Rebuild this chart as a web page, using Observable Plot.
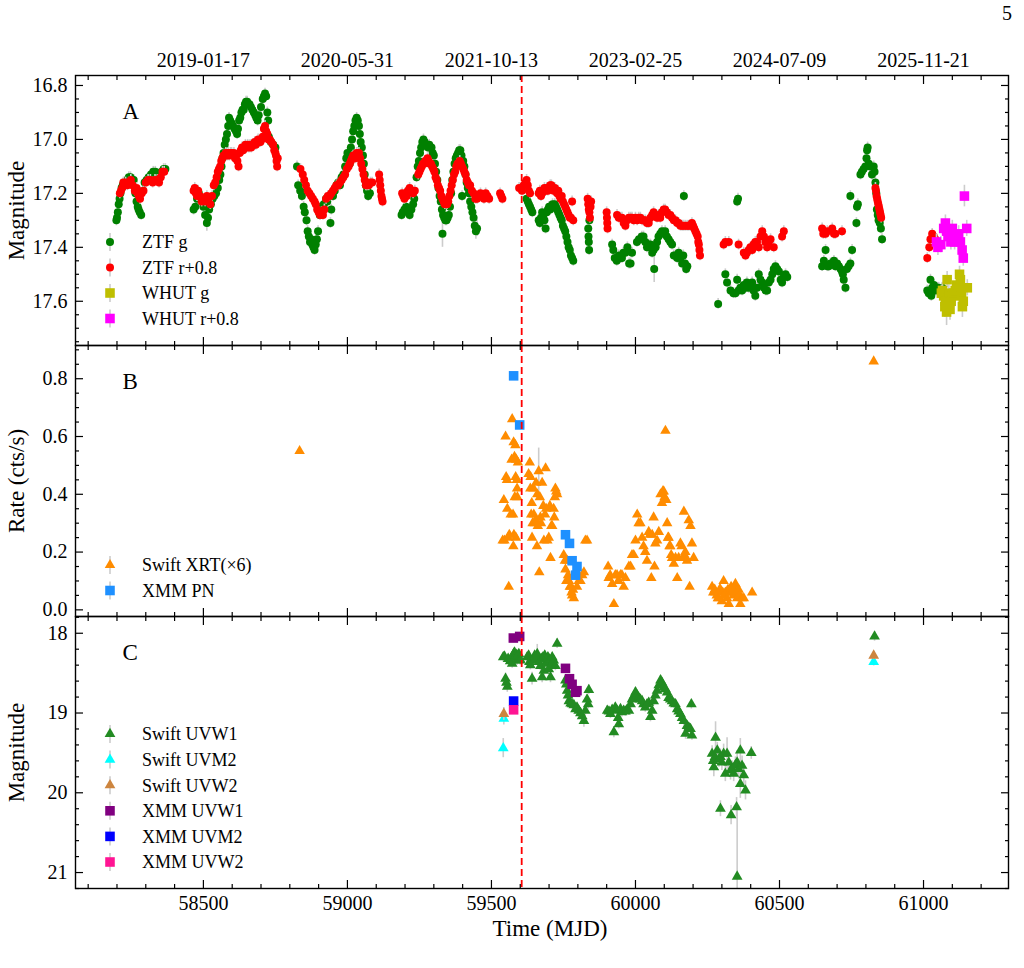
<!DOCTYPE html>
<html><head><meta charset="utf-8">
<script src="https://cdn.jsdelivr.net/npm/d3@7"></script>
<script src="https://cdn.jsdelivr.net/npm/@observablehq/plot@0.6"></script>
<style>
body{margin:0;background:#fff;}
#page{position:relative;width:1024px;height:968px;font-family:"Liberation Serif","Times New Roman",serif;background:#fff;overflow:hidden;}
#page > svg{position:absolute;left:0;}
#page svg text{font-family:"Liberation Serif","Times New Roman",serif;}
#pageno{position:absolute;left:1002px;top:2px;font-size:20px;}
</style></head><body><div id="page"><div id="pageno">5</div></div>
<script>
// ---------- axes / ticks ----------
const X_DOMAIN = [58056, 61295];
const X_MAJOR = [58500, 59000, 59500, 60000, 60500, 61000];
const X_MINOR = [58100,58200,58300,58400,58600,58700,58800,58900,59100,59200,59300,59400,59600,59700,59800,59900,60100,60200,60300,60400,60600,60700,60800,60900,61100,61200];
const DATE_LABELS = ["2019-01-17","2020-05-31","2021-10-13","2023-02-25","2024-07-09","2025-11-21"];
const EVENT_MJD = 59605;

const A_MAJOR = [16.8, 17.0, 17.2, 17.4, 17.6];
const A_MINOR = [16.85,16.9,16.95,17.05,17.1,17.15,17.25,17.3,17.35,17.45,17.5,17.55,17.65,17.7,17.75];
const B_MAJOR = [0.0, 0.2, 0.4, 0.6, 0.8];
const B_MINOR = [0.05,0.1,0.15,0.25,0.3,0.35,0.45,0.5,0.55,0.65,0.7,0.75,0.85,0.9];
const C_MAJOR = [18, 19, 20, 21];
const C_MINOR = [17.8,18.2,18.4,18.6,18.8,19.2,19.4,19.6,19.8,20.2,20.4,20.6,20.8,21.2];

const LEGEND_A = ["ZTF g", "ZTF r+0.8", "WHUT g", "WHUT r+0.8"];
const LEGEND_B = ["Swift XRT(×6)", "XMM PN"];
const LEGEND_C = ["Swift UVW1", "Swift UVM2", "Swift UVW2", "XMM UVW1", "XMM UVM2", "XMM UVW2"];

// ---------- panel A : [MJD, mag, err] ----------
const ztfG = [
[58198,17.30,.02],[58200,17.29,.02],[58203,17.27,.02],[58206,17.24,.02],[58209,17.22,.02],[58212,17.20,.03],[58216,17.18,.02],[58220,17.17,.02],[58224,17.16,.02],[58229,17.16,.02],[58235,17.15,.02],[58241,17.14,.02],[58247,17.14,.02],[58253,17.15,.02],[58258,17.15,.02],[58264,17.20,.02],[58268,17.23,.02],[58272,17.25,.02],[58275,17.26,.02],[58279,17.27,.02],[58284,17.28,.02],[58290,17.19,.02],[58296,17.16,.02],[58303,17.15,.02],[58310,17.14,.02],[58318,17.13,.02],[58326,17.12,.02],[58333,17.12,.02],[58341,17.13,.02],[58348,17.14,.02],[58355,17.12,.02],[58362,17.11,.02],[58368,17.11,.02],
[58466,17.26,.02],[58472,17.25,.02],[58478,17.22,.02],[58484,17.20,.02],[58492,17.22,.02],[58500,17.25,.02],[58506,17.28,.02],[58512,17.31,.03],[58516,17.29,.02],[58520,17.26,.02],[58526,17.24,.02],[58532,17.22,.02],[58538,17.21,.02],[58544,17.20,.02],[58550,17.18,.02],[58555,17.15,.02],[58559,17.13,.02],[58563,17.10,.02],[58566,17.07,.02],[58570,17.05,.02],[58574,17.02,.02],[58578,17.00,.02],[58582,16.98,.02],[58586,16.95,.02],[58589,16.92,.02],[58593,16.93,.02],[58598,16.94,.02],[58603,16.95,.02],[58608,16.96,.02],[58613,16.97,.02],[58617,16.98,.02],[58620,16.96,.02],[58624,16.93,.02],[58628,16.92,.02],[58632,16.90,.02],[58636,16.89,.02],[58640,16.89,.02],[58644,16.87,.02],[58648,16.86,.02],[58652,16.86,.02],[58656,16.87,.02],[58660,16.87,.02],[58665,16.88,.02],[58670,16.89,.02],[58675,16.90,.02],[58680,16.91,.02],[58684,16.92,.02],[58688,16.93,.02],[58692,16.91,.02],[58700,16.88,.02],[58706,16.85,.02],[58710,16.84,.02],[58714,16.83,.02],[58718,16.84,.02],[58722,16.90,.02],[58725,16.93,.02],[58727,16.99,.02],[58730,17.00,.02],[58734,17.01,.02],[58742,17.02,.02],[58750,17.03,.02],
[58825,17.10,.02],[58829,17.17,.02],[58836,17.19,.02],[58842,17.21,.02],[58848,17.25,.02],[58852,17.27,.02],[58858,17.30,.02],[58862,17.34,.02],[58866,17.36,.02],[58870,17.38,.02],[58874,17.37,.02],[58878,17.39,.02],[58882,17.40,.02],[58886,17.41,.02],[58890,17.39,.02],[58894,17.37,.02],[58898,17.34,.02],[58904,17.28,.02],[58910,17.25,.02],[58918,17.24,.02],[58926,17.22,.02],[58930,17.23,.02],[58941,17.31,.02],[58944,17.26,.02],[58950,17.21,.02],[58956,17.19,.02],[58962,17.17,.02],[58968,17.16,.02],[58974,17.17,.02],[58980,17.14,.02],[58986,17.13,.02],[58992,17.10,.02],[58996,17.07,.02],[59000,17.05,.02],[59004,17.07,.02],[59008,17.09,.02],[59012,17.03,.02],[59016,17.00,.02],[59020,16.97,.02],[59024,16.95,.02],[59028,16.93,.02],[59032,16.92,.02],[59036,16.93,.02],[59040,16.95,.02],[59043,16.98,.02],[59046,17.01,.02],[59050,17.03,.02],[59054,17.06,.02],[59057,17.09,.02],[59060,17.13,.02],[59064,17.17,.02],[59068,17.19,.02],[59072,17.21,.02],[59078,17.20,.02],
[59188,17.28,.02],[59192,17.27,.02],[59198,17.26,.02],[59204,17.25,.02],[59210,17.27,.02],[59216,17.28,.02],[59222,17.26,.02],[59228,17.24,.02],[59232,17.22,.02],[59240,17.14,.02],[59244,17.10,.02],[59248,17.08,.02],[59252,17.05,.02],[59256,17.03,.02],[59260,17.01,.02],[59264,17.00,.02],[59268,17.01,.02],[59272,17.02,.02],[59276,17.02,.02],[59280,17.03,.02],[59284,17.02,.02],[59288,17.03,.02],[59292,17.03,.02],[59296,17.05,.02],[59300,17.06,.02],[59304,17.09,.02],[59308,17.12,.02],[59312,17.15,.02],[59316,17.18,.02],[59320,17.21,.02],[59324,17.23,.02],[59328,17.26,.02],[59330,17.35,.05],[59332,17.28,.02],[59336,17.29,.02],[59340,17.30,.02],[59344,17.30,.02],[59348,17.29,.02],[59352,17.28,.02],[59356,17.25,.02],[59360,17.20,.02],[59364,17.15,.02],[59368,17.12,.02],[59372,17.09,.02],[59376,17.07,.02],[59380,17.06,.02],[59384,17.05,.02],[59388,17.04,.02],[59392,17.04,.02],[59396,17.06,.02],[59398,17.21,.02],[59402,17.08,.02],[59406,17.10,.02],[59410,17.13,.02],[59414,17.16,.02],[59418,17.18,.02],[59422,17.20,.02],[59426,17.23,.02],[59430,17.25,.02],[59434,17.27,.02],[59438,17.29,.02],[59442,17.32,.03],[59446,17.34,.03],[59450,17.33,.03],
[59622,17.22,.02],[59626,17.23,.02],[59630,17.24,.02],[59634,17.25,.02],[59638,17.26,.02],[59642,17.27,.02],[59664,17.30,.02],[59668,17.31,.02],[59672,17.29,.02],[59676,17.27,.02],[59680,17.28,.02],[59684,17.30,.02],[59688,17.33,.02],[59692,17.27,.02],[59696,17.26,.02],[59700,17.25,.02],[59704,17.26,.02],[59708,17.25,.02],[59712,17.24,.02],[59716,17.25,.02],[59720,17.24,.02],[59724,17.25,.02],[59728,17.26,.02],[59732,17.27,.02],[59736,17.28,.02],[59740,17.29,.02],[59744,17.30,.02],[59748,17.32,.02],[59752,17.33,.02],[59756,17.34,.02],[59760,17.36,.02],[59764,17.38,.02],[59768,17.40,.02],[59772,17.41,.02],[59776,17.43,.02],[59780,17.44,.02],[59784,17.45,.02],[59836,17.33,.02],[59837,17.36,.02],[59838,17.38,.02],[59839,17.41,.02],[59840,17.30,.02],
[59919,17.39,.02],[59923,17.41,.02],[59928,17.44,.02],[59935,17.45,.02],[59942,17.43,.02],[59948,17.44,.02],[59953,17.44,.02],[59958,17.42,.02],[59965,17.42,.02],[59972,17.40,.02],[59978,17.46,.02],[59983,17.46,.02],[59988,17.42,.02],[60005,17.38,.02],[60012,17.37,.02],[60017,17.37,.02],[60022,17.36,.02],[60028,17.36,.02],[60034,17.38,.02],[60040,17.40,.02],[60046,17.39,.02],[60052,17.39,.02],[60058,17.42,.02],[60063,17.41,.02],[60065,17.48,.05],[60070,17.40,.02],[60075,17.38,.02],[60080,17.36,.02],[60086,17.35,.02],[60092,17.34,.02],[60098,17.35,.02],[60103,17.34,.02],[60109,17.36,.02],[60115,17.37,.02],[60121,17.38,.02],[60127,17.39,.02],[60133,17.43,.02],[60139,17.43,.02],[60145,17.44,.02],[60150,17.42,.02],[60156,17.44,.02],[60162,17.46,.02],[60166,17.43,.02],[60168,17.21,.02],[60172,17.46,.02],[60176,17.48,.02],[60180,17.47,.02],
[60287,17.61,.02],[60312,17.50,.02],[60318,17.53,.02],[60330,17.56,.02],[60340,17.57,.02],[60347,17.57,.02],[60353,17.52,.02],[60358,17.56,.02],[60364,17.55,.02],[60370,17.56,.02],[60376,17.54,.02],[60382,17.55,.02],[60387,17.53,.02],[60393,17.55,.02],[60399,17.54,.02],[60405,17.53,.02],[60410,17.56,.02],[60416,17.58,.02],[60422,17.55,.02],[60428,17.50,.02],[60434,17.52,.02],[60440,17.53,.02],[60446,17.55,.02],[60452,17.56,.02],[60457,17.56,.02],[60463,17.53,.02],[60469,17.52,.02],[60475,17.50,.02],[60480,17.48,.02],[60486,17.47,.02],[60492,17.48,.02],[60498,17.49,.02],[60504,17.52,.02],[60509,17.53,.02],[60515,17.51,.02],[60521,17.50,.02],[60527,17.51,.02],[60353,17.23,.02],[60356,17.22,.02],
[60648,17.47,.02],[60654,17.45,.02],[60660,17.41,.02],[60666,17.47,.02],[60671,17.47,.02],[60677,17.46,.02],[60683,17.46,.02],[60689,17.45,.02],[60694,17.47,.02],[60700,17.46,.02],[60706,17.47,.02],[60712,17.48,.02],[60717,17.49,.02],[60720,17.50,.02],[60723,17.52,.02],[60729,17.55,.02],[60734,17.48,.02],[60740,17.47,.02],[60746,17.46,.02],[60752,17.41,.02],
[60746,17.21,.02],[60767,17.31,.02],[60769,17.25,.02],[60772,17.24,.02],[60781,17.13,.02],[60786,17.12,.02],[60792,17.11,.02],[60798,17.10,.02],[60802,17.07,.02],[60804,17.04,.02],[60806,17.03,.02],[60810,17.09,.02],[60815,17.10,.02],[60821,17.13,.02],[60827,17.10,.02],[60830,17.12,.02],[60833,17.16,.02],[60836,17.20,.02],[60838,17.26,.02],[60841,17.28,.02],[60844,17.30,.02],[60848,17.31,.02],[60852,17.33,.02],[60856,17.37,.02],
[61013,17.56,.02],[61018,17.57,.02],[61024,17.52,.02],[61027,17.58,.02],[61030,17.55,.02],[61036,17.54,.02],[61042,17.56,.02],[61048,17.55,.02],[61053,17.55,.02],[61059,17.56,.02],[61065,17.55,.02]
];
const ztfR = [
[58210,17.20,.02],[58214,17.19,.02],[58218,17.18,.02],[58222,17.16,.02],[58226,17.17,.02],[58230,17.16,.02],[58236,17.17,.02],[58242,17.16,.02],[58248,17.15,.02],[58254,17.17,.02],[58262,17.19,.02],[58268,17.18,.02],[58272,17.20,.02],[58276,17.21,.02],[58280,17.22,.02],[58286,17.20,.02],[58292,17.19,.02],[58300,17.16,.02],[58308,17.15,.02],[58316,17.15,.02],[58324,17.16,.02],[58332,17.15,.02],[58340,17.15,.02],[58346,17.16,.02],[58352,17.14,.02],[58358,17.12,.02],[58364,17.12,.02],
[58466,17.19,.02],[58470,17.18,.02],[58474,17.20,.02],[58478,17.21,.02],[58482,17.19,.02],[58488,17.21,.02],[58494,17.23,.02],[58500,17.22,.02],[58506,17.23,.02],[58512,17.21,.02],[58518,17.22,.02],[58524,17.24,.02],[58530,17.21,.02],[58536,17.17,.02],[58541,17.16,.02],[58546,17.14,.02],[58550,17.12,.02],[58554,17.11,.02],[58558,17.10,.02],[58562,17.08,.02],[58566,17.07,.02],[58570,17.06,.02],[58574,17.06,.02],[58578,17.05,.02],[58582,17.06,.02],[58586,17.05,.02],[58590,17.06,.02],[58594,17.05,.02],[58598,17.05,.02],[58602,17.06,.02],[58606,17.05,.02],[58610,17.07,.02],[58614,17.06,.02],[58618,17.08,.02],[58622,17.10,.02],[58626,17.05,.02],[58630,17.04,.02],[58634,17.03,.02],[58638,17.04,.02],[58642,17.03,.02],[58646,17.02,.02],[58650,17.03,.02],[58654,17.02,.02],[58658,17.03,.02],[58662,17.02,.02],[58666,17.03,.02],[58670,17.02,.02],[58674,17.02,.02],[58678,17.01,.02],[58682,17.02,.02],[58686,17.01,.02],[58690,17.00,.02],[58694,17.01,.02],[58698,17.01,.02],[58702,17.00,.02],[58706,16.99,.02],[58710,16.96,.02],[58714,16.95,.02],[58718,16.97,.02],[58722,16.98,.02],[58726,17.00,.02],[58730,17.00,.02],[58736,17.01,.02],[58742,17.02,.02],[58746,17.04,.02],[58750,17.05,.02],[58752,17.06,.02],[58754,17.08,.02],[58756,17.10,.02],[58758,17.07,.02],
[58837,17.11,.02],[58845,17.13,.02],[58850,17.15,.02],[58856,17.17,.02],[58862,17.19,.02],[58868,17.20,.02],[58874,17.21,.02],[58880,17.22,.02],[58886,17.23,.02],[58890,17.24,.02],[58895,17.26,.02],[58900,17.27,.02],[58905,17.28,.02],[58910,17.27,.02],[58915,17.28,.02],[58920,17.26,.02],[58926,17.22,.02],[58932,17.21,.02],[58938,17.21,.02],[58944,17.20,.02],[58950,17.19,.02],[58956,17.18,.02],[58962,17.17,.02],[58968,17.17,.02],[58974,17.16,.02],[58980,17.15,.02],[58986,17.14,.02],[58992,17.13,.02],[58998,17.11,.02],[59004,17.10,.02],[59008,17.09,.02],[59012,17.08,.02],[59016,17.07,.02],[59020,17.06,.02],[59024,17.06,.02],[59028,17.07,.02],[59032,17.05,.02],[59036,17.06,.02],[59040,17.05,.02],[59044,17.07,.02],[59048,17.09,.02],[59052,17.11,.02],[59056,17.13,.02],[59060,17.15,.02],[59064,17.17,.02],[59068,17.17,.02],[59074,17.17,.02],[59080,17.16,.02],[59086,17.16,.02],[59110,17.13,.02],[59112,17.15,.02],[59114,17.17,.02],[59116,17.19,.02],[59118,17.21,.02],[59120,17.22,.02],[59122,17.23,.02],
[59190,17.20,.02],[59194,17.21,.02],[59198,17.22,.02],[59202,17.20,.02],[59206,17.21,.02],[59210,17.19,.02],[59216,17.18,.02],[59222,17.19,.02],[59228,17.20,.02],[59234,17.19,.02],[59246,17.13,.02],[59250,17.12,.02],[59254,17.11,.02],[59258,17.10,.02],[59262,17.09,.02],[59266,17.09,.02],[59270,17.08,.02],[59274,17.08,.02],[59278,17.07,.02],[59282,17.08,.02],[59286,17.09,.02],[59290,17.09,.02],[59294,17.10,.02],[59298,17.11,.02],[59302,17.12,.02],[59306,17.14,.02],[59310,17.15,.02],[59314,17.17,.02],[59318,17.18,.02],[59322,17.19,.02],[59326,17.21,.02],[59330,17.22,.02],[59334,17.23,.02],[59338,17.24,.02],[59342,17.23,.02],[59346,17.24,.02],[59350,17.23,.02],[59354,17.21,.02],[59358,17.19,.02],[59362,17.17,.02],[59366,17.15,.02],[59370,17.13,.02],[59374,17.12,.02],[59378,17.10,.02],[59382,17.09,.02],[59386,17.09,.02],[59390,17.08,.02],[59394,17.09,.02],[59398,17.10,.02],[59402,17.11,.02],[59406,17.12,.02],[59410,17.13,.02],[59414,17.15,.02],[59418,17.16,.02],[59422,17.17,.02],[59426,17.17,.02],[59432,17.19,.02],[59438,17.20,.02],[59444,17.22,.02],[59450,17.22,.02],[59456,17.21,.02],[59462,17.20,.02],[59468,17.21,.02],[59474,17.22,.02],[59480,17.20,.02],[59486,17.21,.02],[59492,17.22,.02],[59530,17.20,.02],[59534,17.21,.02],[59538,17.22,.02],[59596,17.18,.02],
[59606,17.19,.02],[59612,17.17,.02],[59618,17.16,.02],[59622,17.15,.02],[59626,17.17,.02],[59630,17.19,.02],[59634,17.20,.02],[59664,17.20,.02],[59668,17.19,.02],[59672,17.21,.02],[59676,17.20,.02],[59680,17.19,.02],[59684,17.18,.02],[59688,17.19,.02],[59692,17.18,.02],[59696,17.19,.02],[59700,17.18,.02],[59704,17.17,.02],[59708,17.17,.02],[59712,17.18,.02],[59716,17.19,.02],[59720,17.18,.02],[59724,17.19,.02],[59728,17.20,.02],[59732,17.19,.02],[59736,17.21,.02],[59740,17.22,.02],[59744,17.21,.02],[59748,17.23,.02],[59752,17.24,.02],[59756,17.25,.02],[59760,17.26,.02],[59764,17.27,.02],[59768,17.28,.02],[59772,17.29,.02],[59776,17.29,.02],[59780,17.23,.02],[59784,17.30,.02],[59834,17.22,.02],[59836,17.24,.02],[59838,17.26,.02],[59840,17.27,.02],[59842,17.29,.02],[59844,17.25,.02],[59846,17.23,.02],[59900,17.27,.02],[59901,17.29,.02],[59902,17.31,.02],[59903,17.33,.02],
[59936,17.28,.02],[59942,17.29,.02],[59948,17.29,.02],[59953,17.29,.02],[59959,17.31,.02],[59965,17.32,.02],[59971,17.30,.02],[59977,17.29,.02],[59983,17.29,.02],[59988,17.29,.02],[59994,17.30,.02],[60000,17.29,.02],[60006,17.30,.02],[60011,17.29,.02],[60017,17.29,.02],[60023,17.30,.02],[60028,17.30,.02],[60034,17.30,.02],[60040,17.31,.02],[60046,17.31,.02],[60052,17.29,.02],[60058,17.28,.02],[60063,17.27,.02],[60069,17.28,.02],[60075,17.29,.02],[60080,17.28,.02],[60086,17.29,.02],[60092,17.27,.02],[60098,17.26,.02],[60103,17.26,.02],[60109,17.27,.02],[60115,17.28,.02],[60121,17.28,.02],[60127,17.29,.02],[60133,17.30,.02],[60139,17.30,.02],[60145,17.31,.02],[60150,17.31,.02],[60156,17.32,.02],[60162,17.32,.02],[60168,17.32,.02],[60174,17.32,.02],[60180,17.32,.02],[60185,17.32,.02],[60191,17.32,.02],[60196,17.31,.02],[60200,17.32,.02],[60204,17.33,.02],[60208,17.34,.02],[60212,17.35,.02],[60216,17.36,.02],[60218,17.38,.02],[60220,17.39,.02],[60222,17.41,.02],[60224,17.43,.02],
[60306,17.39,.02],[60312,17.38,.02],[60324,17.38,.02],[60358,17.39,.02],[60376,17.42,.02],[60382,17.43,.02],[60387,17.42,.02],[60393,17.41,.02],[60399,17.40,.02],[60405,17.41,.02],[60410,17.39,.02],[60416,17.38,.02],[60422,17.38,.02],[60428,17.40,.02],[60434,17.36,.02],[60440,17.34,.02],[60446,17.36,.02],[60451,17.38,.02],[60457,17.40,.02],[60463,17.38,.02],[60469,17.37,.02],[60480,17.40,.02],[60509,17.36,.02],[60515,17.34,.02],
[60648,17.33,.02],[60652,17.35,.02],[60660,17.35,.02],[60666,17.34,.02],[60683,17.33,.02],[60689,17.35,.02],[60694,17.35,.02],[60717,17.34,.02],
[60833,17.18,.02],[60835,17.19,.02],[60837,17.21,.02],[60839,17.22,.02],[60841,17.23,.02],[60843,17.24,.02],[60845,17.25,.02],[60847,17.26,.02],[60849,17.27,.02],[60851,17.28,.02],[60853,17.29,.02],
[61013,17.44,.02],[61020,17.40,.02],[61024,17.37,.02],[61030,17.35,.02],[61036,17.36,.02],[61041,17.37,.02],[61047,17.38,.02]
];
const whutG = [
[61062,17.57,.03],[61066,17.56,.03],[61070,17.58,.03],[61074,17.62,.04],[61076,17.60,.03],[61080,17.64,.05],[61082,17.52,.03],[61084,17.59,.03],[61088,17.57,.03],[61092,17.63,.04],[61096,17.60,.03],[61100,17.58,.03],[61105,17.57,.03],[61110,17.56,.03],[61115,17.54,.03],[61122,17.55,.03],[61125,17.50,.03],[61128,17.52,.03],[61132,17.58,.03],[61135,17.62,.04],[61138,17.60,.03],[61152,17.55,.03]
];
const whutR = [
[61045,17.38,.03],[61050,17.40,.03],[61060,17.39,.03],[61070,17.33,.03],[61076,17.31,.03],[61080,17.34,.03],[61085,17.36,.03],[61090,17.35,.03],[61095,17.38,.03],[61100,17.33,.03],[61104,17.36,.03],[61108,17.38,.03],[61115,17.37,.03],[61122,17.35,.03],[61128,17.38,.03],[61134,17.41,.03],[61138,17.44,.03],[61142,17.21,.04],[61150,17.33,.03]
];

// ---------- panel B : [MJD, rate, err] ----------
const swiftXRT = [
[58834,0.55,.01],
[59539,0.24,.01],[59543,0.38,.01],[59545,0.24,.01],[59549,0.60,.01],[59551,0.46,.01],[59554,0.45,.01],[59555,0.35,.01],[59558,0.25,.01],[59560,0.08,.01],[59562,0.26,.01],[59567,0.33,.01],[59570,0.52,.01],[59572,0.66,.01],[59575,0.33,.01],[59576,0.22,.01],[59577,0.58,.01],[59578,0.26,.01],[59580,0.53,.01],[59581,0.39,.01],[59583,0.57,.01],[59584,0.46,.01],[59585,0.25,.01],[59586,0.52,.01],[59588,0.45,.01],[59589,0.42,.01],[59590,0.39,.01],[59592,0.51,.01],
[59629,0.47,.01],[59633,0.51,.01],[59635,0.42,.01],[59636,0.46,.01],[59638,0.33,.01],[59640,0.37,.01],[59641,0.25,.01],[59643,0.30,.01],[59646,0.42,.01],[59647,0.33,.01],[59650,0.30,.01],[59653,0.31,.01],[59655,0.44,.01],[59658,0.22,.01],[59659,0.40,.01],[59661,0.29,.01],[59664,0.48,.08],[59666,0.13,.01],[59668,0.39,.01],[59670,0.32,.01],[59672,0.30,.01],[59676,0.44,.01],[59680,0.36,.01],[59682,0.24,.01],[59686,0.33,.01],[59688,0.49,.01],[59690,0.35,.01],[59694,0.24,.01],[59699,0.25,.01],[59703,0.36,.01],[59705,0.18,.01],[59708,0.29,.01],[59711,0.29,.01],[59716,0.35,.01],[59718,0.32,.01],[59720,0.39,.01],[59722,0.42,.01],[59725,0.41,.01],[59728,0.40,.01],
[59751,0.19,.01],[59755,0.17,.01],[59757,0.14,.01],[59760,0.10,.01],[59763,0.17,.01],[59766,0.12,.01],[59769,0.10,.01],[59772,0.08,.01],[59775,0.08,.01],[59778,0.06,.01],[59780,0.05,.01],[59783,0.07,.01],[59786,0.04,.01],[59790,0.12,.01],[59792,0.12,.01],[59797,0.08,.01],[59803,0.10,.01],[59809,0.10,.01],[59815,0.12,.01],[59821,0.13,.01],[59826,0.24,.01],[59832,0.24,.01],
[59905,0.15,.01],[59907,0.11,.01],[59912,0.12,.01],[59919,0.09,.01],[59925,0.02,.01],[59930,0.12,.01],[59936,0.12,.01],[59940,0.10,.01],[59942,0.10,.01],[59948,0.12,.01],[59953,0.12,.01],[59959,0.08,.01],[59965,0.11,.01],[59977,0.15,.01],[59983,0.15,.01],[59988,0.19,.01],[59994,0.19,.01],[60000,0.24,.01],[60006,0.33,.01],[60011,0.30,.01],[60017,0.30,.01],[60023,0.25,.01],[60028,0.22,.01],[60034,0.20,.01],[60040,0.17,.01],[60046,0.27,.01],[60050,0.26,.01],[60055,0.11,.01],[60058,0.26,.01],[60063,0.32,.01],[60066,0.15,.01],[60069,0.23,.01],[60075,0.24,.01],[60081,0.27,.01],[60087,0.40,.01],[60092,0.37,.01],[60095,0.41,.01],[60098,0.41,.01],[60101,0.39,.01],[60104,0.62,.01],[60107,0.38,.01],[60110,0.30,.01],[60113,0.25,.01],[60115,0.25,.01],[60118,0.22,.01],[60121,0.22,.01],[60124,0.19,.01],[60127,0.18,.01],[60133,0.16,.01],[60139,0.18,.01],[60145,0.11,.01],[60150,0.18,.01],[60156,0.23,.01],[60160,0.22,.01],[60165,0.18,.01],[60168,0.34,.01],[60173,0.20,.01],[60176,0.18,.01],[60179,0.17,.01],[60185,0.31,.01],[60188,0.08,.01],[60191,0.29,.01],[60196,0.23,.01],[60202,0.18,.01],
[60266,0.08,.01],[60270,0.06,.01],[60275,0.07,.01],[60278,0.06,.01],[60282,0.05,.01],[60286,0.04,.01],[60289,0.04,.01],[60292,0.07,.01],[60295,0.07,.01],[60300,0.03,.01],[60303,0.06,.01],[60306,0.10,.01],[60309,0.05,.01],[60312,0.06,.01],[60318,0.04,.01],[60321,0.07,.01],[60324,0.02,.01],[60328,0.06,.01],[60332,0.08,.01],[60335,0.06,.01],[60340,0.05,.01],[60344,0.07,.01],[60347,0.09,.01],[60350,0.06,.01],[60353,0.04,.01],[60358,0.07,.01],[60362,0.05,.01],[60364,0.02,.01],[60370,0.04,.01],[60376,0.04,.01],[60405,0.06,.01],
[60827,0.86,.01]
];
const xmmPN = [[59577,0.81,.005],[59598,0.64,.005],[59757,0.26,.005],[59771,0.23,.005],[59780,0.17,.005],[59797,0.15,.005],[59792,0.12,.005]];

// ---------- panel C : [MJD, mag, err] ----------
const uvw1 = [
[59541,18.30,.06],[59545,18.29,.06],[59549,18.57,.07],[59552,18.62,.07],[59555,18.67,.07],[59558,18.32,.06],[59565,18.35,.06],[59572,18.38,.06],[59575,18.28,.06],[59577,18.26,.06],[59580,18.24,.06],[59583,18.30,.06],[59586,18.27,.06],[59589,18.34,.06],[59592,18.28,.06],[59595,18.26,.06],[59598,18.32,.06],[59600,18.34,.06],
[59624,18.30,.06],[59629,18.28,.06],[59632,18.36,.06],[59635,18.40,.06],[59641,18.57,.08],[59647,18.34,.06],[59650,18.28,.06],[59653,18.32,.06],[59659,18.26,.12],[59664,18.36,.06],[59670,18.41,.06],[59673,18.32,.06],[59676,18.55,.07],[59679,18.30,.06],[59682,18.47,.06],[59685,18.28,.06],[59688,18.32,.06],[59690,18.36,.06],[59693,18.38,.06],[59696,18.30,.06],[59699,18.45,.06],[59702,18.33,.06],[59705,18.55,.07],[59708,18.40,.06],[59711,18.30,.06],[59716,18.34,.06],[59722,18.41,.06],[59728,18.13,.06],
[59757,18.59,.06],[59760,18.64,.06],[59763,18.72,.06],[59766,18.78,.06],[59769,18.85,.06],[59775,18.88,.06],[59780,18.89,.06],[59786,18.90,.06],[59792,18.95,.06],[59797,18.93,.06],[59803,18.97,.06],[59809,19.00,.06],[59815,19.04,.06],[59821,19.10,.08],[59826,18.97,.06],[59832,18.83,.06],[59838,18.71,.06],[59836,18.89,.06],
[59902,18.97,.06],[59908,18.98,.06],[59913,19.01,.06],[59919,18.96,.06],[59925,19.24,.07],[59930,18.93,.06],[59936,18.97,.06],[59940,19.06,.06],[59942,19.14,.06],[59948,18.95,.06],[59953,18.99,.06],[59959,18.97,.06],[59965,18.98,.06],[59971,18.96,.06],[59977,18.97,.06],[59983,18.89,.06],[59988,18.83,.06],[59994,18.79,.06],[60000,18.74,.06],[60006,18.78,.06],[60011,18.81,.06],[60017,18.83,.06],[60023,18.85,.06],[60028,18.89,.06],[60034,18.93,.06],[60040,18.89,.06],[60046,18.87,.06],[60052,19.05,.06],[60058,18.97,.06],[60063,18.85,.06],[60069,18.78,.06],[60075,18.72,.06],[60081,18.65,.06],[60087,18.59,.06],[60092,18.62,.06],[60098,18.68,.06],[60104,18.70,.06],[60110,18.74,.06],[60115,18.81,.06],[60121,18.83,.06],[60127,18.85,.06],[60133,18.88,.06],[60139,18.89,.06],[60145,18.95,.06],[60150,18.98,.06],[60156,19.01,.06],[60162,19.06,.06],[60168,19.10,.06],[60174,19.26,.07],[60179,19.16,.06],[60185,19.18,.06],[60191,19.20,.06],[60194,18.89,.06],[60196,19.28,.06],
[60266,19.51,.10],[60270,19.60,.10],[60272,19.68,.12],[60276,19.55,.10],[60278,19.31,.20],[60284,19.47,.10],[60290,19.58,.10],[60295,19.55,.10],[60295,20.20,.10],[60300,19.62,.10],[60306,19.51,.12],[60312,19.76,.10],[60318,19.51,.20],[60324,19.62,.10],[60330,19.72,.12],[60332,20.28,.12],[60336,19.70,.10],[60341,19.76,.10],[60347,19.65,.10],[60351,20.18,.12],[60353,19.62,.15],[60353,21.05,.85],[60358,19.70,.12],[60364,19.47,.15],[60364,19.89,.18],[60370,19.66,.12],[60376,19.78,.15],[60382,19.97,.12],[60402,19.50,.08],
[60830,18.04,.06]
];
const uvm2 = [[59541,19.44,.12],[59543,19.07,.08],[60827,18.36,.05]];
const uvw2 = [[59543,19.01,.08],[60827,18.28,.05]];
const xmmUVW1 = [[59576,18.06,.02],[59598,18.04,.02],[59757,18.44,.02],[59771,18.57,.02],[59780,18.64,.02],[59797,18.72,.02],[59792,18.74,.02]];
const xmmUVM2 = [[59577,18.85,.03]];
const xmmUVW2 = [[59577,18.96,.03]];

// ---------- styling ----------
const FONT = "'Liberation Serif','Times New Roman',serif";
const ERR = "#cccccc";
const COL = {
  ztfG: "#008000", ztfR: "#ff0000", whutG: "#bfbf00", whutR: "#ff00ff",
  xrt: "#ff8c00", pn: "#1e90ff",
  uvw1: "#228b22", uvm2: "#00ffff", uvw2: "#cd853f", xuvw1: "#800080", xuvm2: "#0000ff", xuvw2: "#ff1493"
};

function series(data, color, symbol, r) {
  return [
    Plot.ruleX(data, {x: d => d[0], y1: d => d[1] - d[2], y2: d => d[1] + d[2], stroke: ERR, strokeWidth: 1.6, clip: true}),
    Plot.dot(data, {x: d => d[0], y: d => d[1], r, symbol, fill: color})
  ];
}

function frameTicks(yMajor, yMinor) {
  const c = {label: null, fill: "none", strokeWidth: 1.2};
  return [
    Plot.axisX(X_MAJOR, {anchor: "bottom", tickSize: -8, ...c}),
    Plot.axisX(X_MINOR, {anchor: "bottom", tickSize: -4, ...c}),
    Plot.axisX(X_MAJOR, {anchor: "top", tickSize: -8, ...c}),
    Plot.axisX(X_MINOR, {anchor: "top", tickSize: -4, ...c}),
    Plot.axisY(yMajor, {anchor: "left", tickSize: -8, ...c}),
    Plot.axisY(yMinor, {anchor: "left", tickSize: -4, ...c}),
    Plot.axisY(yMajor, {anchor: "right", tickSize: -8, ...c}),
    Plot.axisY(yMinor, {anchor: "right", tickSize: -4, ...c})
  ];
}

function panel({top, height, mt, mb, yDomain, yMajor, yMinor, yFmt, marks, letter, ylabel, extra}) {
  const fig = Plot.plot({
    width: 1024, height,
    marginLeft: 75, marginRight: 16, marginTop: mt, marginBottom: mb,
    x: {domain: X_DOMAIN},
    y: {domain: yDomain},
    style: {fontFamily: FONT, fontSize: "20px", background: "none", color: "black", overflow: "visible"},
    marks: [
      ...marks,
      Plot.ruleX([EVENT_MJD], {stroke: "#ff0000", strokeWidth: 1.8, strokeDasharray: "7,4"}),
      Plot.frame({stroke: "black", strokeWidth: 1.4}),
      ...frameTicks(yMajor, yMinor),
      Plot.axisY(yMajor, {anchor: "left", tickSize: 0, tickPadding: 8, stroke: "none", tickFormat: yFmt, label: null, fontSize: 20, fontFamily: FONT}),
      Plot.text([letter], {frameAnchor: "top-left", dx: 47, dy: 36, lineAnchor: "middle", textAnchor: "start", fontSize: 23, fontFamily: FONT}),
      Plot.text([ylabel], {frameAnchor: "left", dx: -59, rotate: -90, textAnchor: "middle", lineAnchor: "middle", fontSize: 23, fontFamily: FONT}),
      ...(extra || [])
    ]
  });
  fig.style.top = top + "px";
  document.getElementById("page").appendChild(fig);
}

const f1 = d3.format(".1f");

panel({
  top: 0, height: 345, mt: 75, mb: 0,
  yDomain: [17.764, 16.763], yMajor: A_MAJOR, yMinor: A_MINOR, yFmt: f1,
  letter: "A", ylabel: "Magnitude",
  marks: [
    ...series(ztfG, COL.ztfG, "circle", 4),
    ...series(ztfR, COL.ztfR, "circle", 4),
    ...series(whutG, COL.whutG, "square", 5.4),
    ...series(whutR, COL.whutR, "square", 5.4)
  ],
  extra: [
    Plot.axisX(X_MAJOR, {anchor: "top", tickSize: 0, tickPadding: 9, stroke: "none", label: null, fontSize: 20, fontFamily: FONT,
      tickFormat: d => DATE_LABELS[X_MAJOR.indexOf(d)]})
  ]
});

panel({
  top: 345, height: 271, mt: 0, mb: 0,
  yDomain: [-0.023, 0.915], yMajor: B_MAJOR, yMinor: B_MINOR, yFmt: f1,
  letter: "B", ylabel: "Rate (cts/s)",
  marks: [
    ...series(swiftXRT, COL.xrt, "triangle", 3.9),
    ...series(xmmPN, COL.pn, "square", 5.4)
  ]
});

panel({
  top: 616, height: 352, mt: 0, mb: 80,
  yDomain: [21.2, 17.79], yMajor: C_MAJOR, yMinor: C_MINOR, yFmt: d => String(d),
  letter: "C", ylabel: "Magnitude",
  marks: [
    ...series(uvw1, COL.uvw1, "triangle", 4),
    ...series(uvm2, COL.uvm2, "triangle", 4),
    ...series(uvw2, COL.uvw2, "triangle", 4),
    ...series(xmmUVW1, COL.xuvw1, "square", 5.4),
    ...series(xmmUVM2, COL.xuvm2, "square", 5.4),
    ...series(xmmUVW2, COL.xuvw2, "square", 5.4)
  ],
  extra: [
    Plot.axisX(X_MAJOR, {anchor: "bottom", tickSize: 0, tickPadding: 7, stroke: "none", label: null, fontSize: 20, fontFamily: FONT, tickFormat: d => String(d)}),
    Plot.text(["Time (MJD)"], {frameAnchor: "bottom", dx: 8, dy: 40, lineAnchor: "middle", fontSize: 23, fontFamily: FONT})
  ]
});

// ---------- legends (overlay) ----------
const legendSvg = d3.select("#page").append("svg")
  .attr("width", 1024).attr("height", 968)
  .style("top", "0px").style("pointer-events", "none")
  .style("font-family", FONT);

function legend(labels, colors, symbols, sizes, y0, dy) {
  labels.forEach((lab, i) => {
    const y = y0 + i * dy, x = 110;
    legendSvg.append("line").attr("x1", x).attr("x2", x).attr("y1", y - 9).attr("y2", y + 9)
      .attr("stroke", ERR).attr("stroke-width", 1.6);
    const sym = symbols[i] === "circle" ? d3.symbolCircle : symbols[i] === "square" ? d3.symbolSquare : d3.symbolTriangle;
    legendSvg.append("path").attr("d", d3.symbol(sym, Math.PI * sizes[i] * sizes[i])())
      .attr("transform", `translate(${x},${y})`).attr("fill", colors[i]);
    legendSvg.append("text").attr("x", 142).attr("y", y).attr("dy", "0.35em")
      .attr("font-size", 18).text(lab);
  });
}
legend(LEGEND_A, [COL.ztfG, COL.ztfR, COL.whutG, COL.whutR], ["circle","circle","square","square"], [4,4,5.4,5.4], 242, 25.5);
legend(LEGEND_B, [COL.xrt, COL.pn], ["triangle","square"], [3.9,5.4], 565, 25.5);
legend(LEGEND_C, [COL.uvw1, COL.uvm2, COL.uvw2, COL.xuvw1, COL.xuvm2, COL.xuvw2], ["triangle","triangle","triangle","square","square","square"], [4,4,4,5.4,5.4,5.4], 734, 25.6);
</script>
</body></html>
